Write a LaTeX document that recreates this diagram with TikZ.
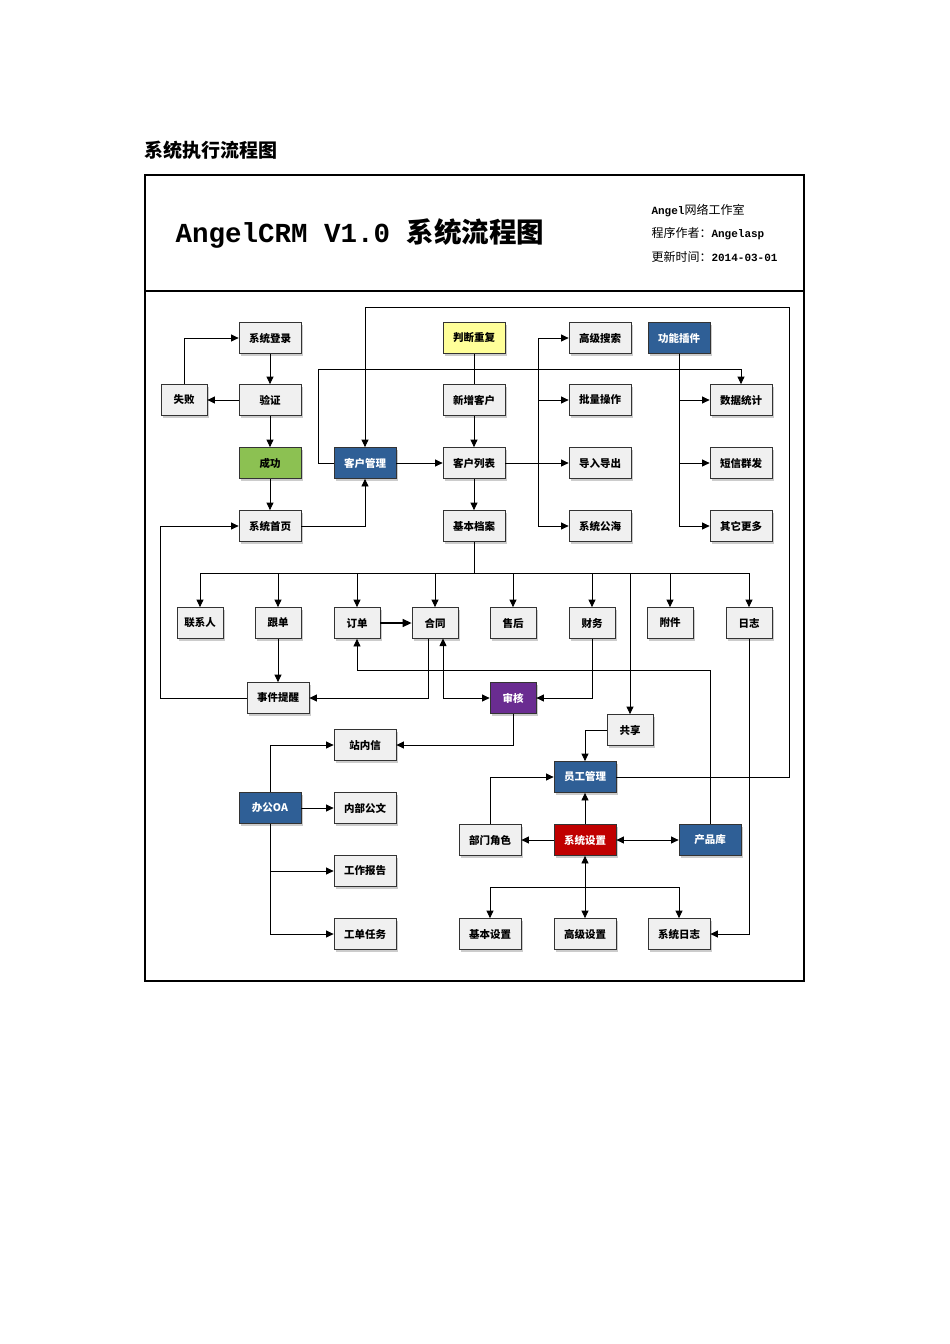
\documentclass[tikz,border=0pt]{standalone}
\usepackage{fontspec}
\setmainfont{Liberation Serif}
\newfontfamily\cjk{Noto Sans CJK SC}
\newfontfamily\cjkser{Noto Sans CJK SC}
\newfontfamily\monob{Liberation Mono}
\usetikzlibrary{arrows.meta,shadows}
\definecolor{bblue}{HTML}{2F5F96}
\definecolor{ggreen}{HTML}{8CC152}
\definecolor{yyel}{HTML}{FFFF99}
\definecolor{ppur}{HTML}{6A2C91}
\definecolor{rred}{HTML}{C00000}
\tikzset{
 bx/.style={draw=black!80,line width=0.8pt,fill=black!6,minimum width=62pt,minimum height=31pt,inner sep=1pt,font=\cjk\fontsize{10.5}{11}\selectfont\bfseries,drop shadow={shadow xshift=2pt,shadow yshift=-2pt,opacity=0.4}},
 nb/.style={bx,minimum width=46pt},
 blu/.style={fill=bblue,text=white},
 ar/.style={-{Triangle[length=7.5pt,width=7pt]},line width=0.8pt},
 ln/.style={line width=0.8pt},
 dbl/.style={{Triangle[length=7.5pt,width=7pt]}-{Triangle[length=7.5pt,width=7pt]},line width=0.8pt},
}
\begin{document}
\begin{tikzpicture}[x=1pt,y=-1pt]
\useasboundingbox (0,0) rectangle (950,1344);
\fill[white] (0,0) rectangle (950,1344);
\node[anchor=west,font=\cjk\fontsize{19}{20}\selectfont\bfseries] (ttl) at (141,150) {系统执行流程图};
\draw[line width=1.5pt] (145,175) rectangle (804,981);
\draw[line width=1.8pt] (145,291) -- (804,291);
\node[anchor=west,font=\fontsize{27.5}{28}\selectfont\bfseries] (head) at (172,233) {\monob AngelCRM V1.0 \cjk 系统流程图};
\node[anchor=west,font=\fontsize{12}{13}\selectfont] (r1) at (648,211) {\monob\bfseries\fontsize{11}{12}\selectfont Angel\cjkser\mdseries\fontsize{12}{13}\selectfont 网络工作室};
\node[anchor=west,font=\fontsize{12}{13}\selectfont] (r2) at (648,234) {\cjkser 程序作者：\monob\bfseries\fontsize{11}{12}\selectfont Angelasp};
\node[anchor=west,font=\fontsize{12}{13}\selectfont] (r3) at (648,257) {\cjkser 更新时间：\monob\bfseries\fontsize{11}{12}\selectfont 2014-03-01};
% nodes
\node[bx] (login) at (270,338) {系统登录};
\node[bx] (verify) at (270,400) {验证};
\node[nb] (fail) at (184,400) {失败};
\node[bx,fill=ggreen] (succ) at (270,463) {成功};
\node[bx] (home) at (270,526) {系统首页};
\node[bx,blu] (kh) at (365,463) {客户管理};
\node[bx,fill=yyel] (pdcf) at (474,338) {判断重复};
\node[bx] (xzkh) at (474,400) {新增客户};
\node[bx] (khlb) at (474,463) {客户列表};
\node[bx] (jbda) at (474,526) {基本档案};
\node[bx] (gjss) at (600,338) {高级搜索};
\node[bx] (plcz) at (600,400) {批量操作};
\node[bx] (drdc) at (600,463) {导入导出};
\node[bx] (xtgh) at (600,526) {系统公海};
\node[bx,blu] (gncj) at (679,338) {功能插件};
\node[bx] (sjtj) at (741,400) {数据统计};
\node[bx] (dxqf) at (741,463) {短信群发};
\node[bx] (qtgd) at (741,526) {其它更多};
\node[nb] (lxr) at (200,623) {联系人};
\node[nb] (gd) at (278,623) {跟单};
\node[nb] (dd) at (357,623) {订单};
\node[nb] (ht) at (435,623) {合同};
\node[nb] (sh) at (513,623) {售后};
\node[nb] (cw) at (592,623) {财务};
\node[nb] (fj) at (670,623) {附件};
\node[nb] (rz) at (749,623) {日志};
\node[bx] (sjtx) at (278,698) {事件提醒};
\node[nb,fill=ppur,text=white] (shen) at (513,698) {审核};
\node[nb] (gx) at (630,730) {共享};
\node[bx] (znx) at (365,745) {站内信};
\node[bx,blu] (oa) at (270,808) {办公OA};
\node[bx] (nbgw) at (365,808) {内部公文};
\node[bx] (gzbg) at (365,871) {工作报告};
\node[bx] (gdrw) at (365,934) {工单任务};
\node[bx,blu] (ygl) at (585,777) {员工管理};
\node[bx] (bmjs) at (490,840) {部门角色};
\node[bx,fill=rred,text=white] (xtsz) at (585,840) {系统设置};
\node[bx,blu] (cpk) at (710,840) {产品库};
\node[bx] (jbsz) at (490,934) {基本设置};
\node[bx] (gjsz) at (585,934) {高级设置};
\node[bx] (xtrz) at (679,934) {系统日志};
% coordinates
\coordinate (tr) at (789,307);
\coordinate (rb) at (789,777);
\coordinate (lp) at (318,369);
\coordinate (v1) at (538,338);
\coordinate (v2) at (538,526);
\coordinate (bus1) at (200,573);
\coordinate (bus2) at (749,573);
\coordinate (pl) at (160,698);
\coordinate (sb) at (490,887);
\coordinate (sb2) at (679,887);
% connectors
\draw[ar] (login) -- (verify);
\draw[ar] (verify) -- (fail);
\draw[ar] (fail.north) |- (login.west);
\draw[ar] (verify) -- (succ);
\draw[ar] (succ) -- (home);
\draw[ar] (home.east) -| (kh.south);
\draw[ar] (ygl.east) -- (rb) -- (tr) -| (kh.north);
\draw[ar] (kh.west) -| (lp) -| (sjtj.north);
\draw[ln] (pdcf) -- (xzkh);
\draw[ar] (xzkh) -- (khlb);
\draw[ar] (kh) -- (khlb);
\draw[ar] (khlb) -- (drdc);
\draw[ar] (khlb) -- (jbda);
\draw[ln] (v1) -- (v2);
\draw[ar] (v1) -- (gjss.west);
\draw[ar] (v1|-plcz) -- (plcz.west);
\draw[ar] (v2) -- (xtgh.west);
\draw[ar] (gncj.south) |- (qtgd.west);
\draw[ar] (gncj.south|-sjtj) -- (sjtj.west);
\draw[ar] (gncj.south|-dxqf) -- (dxqf.west);
\draw[ln] (jbda.south) -- (jbda.south|-bus1);
\draw[ln] (bus1) -- (bus2);
\foreach \n in {lxr,gd,dd,ht,sh,cw,fj,rz} \draw[ar] (bus1-|\n) -- (\n.north);
\draw[ar] (630,573) -- (gx.north);
\draw[ar] (gd) -- (sjtx);
\draw[-{Triangle[length=9pt,width=8pt]},line width=1.4pt] (dd) -- (ht);
\draw[ar] (428,638.5) |- (sjtx.east);
\draw[ar] (cpk.north) |- (357,670) -- (dd.south);
\draw[dbl] (443,638.5) |- (shen.west);
\draw[ar] (cw.south) |- (shen.east);
\draw[ar] (shen.south) |- (znx.east);
\draw[ar] (rz.south) |- (xtrz.east);
\draw[ar] (gx.west) -| (ygl.north);
\draw[ar] (sjtx.west) -| (pl) |- (home.west);
\draw[ar] (oa.north) |- (znx.west);
\draw[ar] (oa) -- (nbgw);
\draw[ar] (oa.south) |- (gdrw.west);
\draw[ar] (oa.south|-gzbg) -- (gzbg.west);
\draw[ar] (bmjs.north) |- (ygl.west);
\draw[ar] (xtsz) -- (ygl);
\draw[ar] (xtsz) -- (bmjs);
\draw[dbl] (xtsz) -- (cpk);
\draw[dbl] (xtsz) -- (gjsz);
\draw[ln] (sb) -- (sb2);
\draw[ar] (sb) -- (jbsz.north);
\draw[ar] (sb2) -- (xtrz.north);
\end{tikzpicture}
\end{document}
